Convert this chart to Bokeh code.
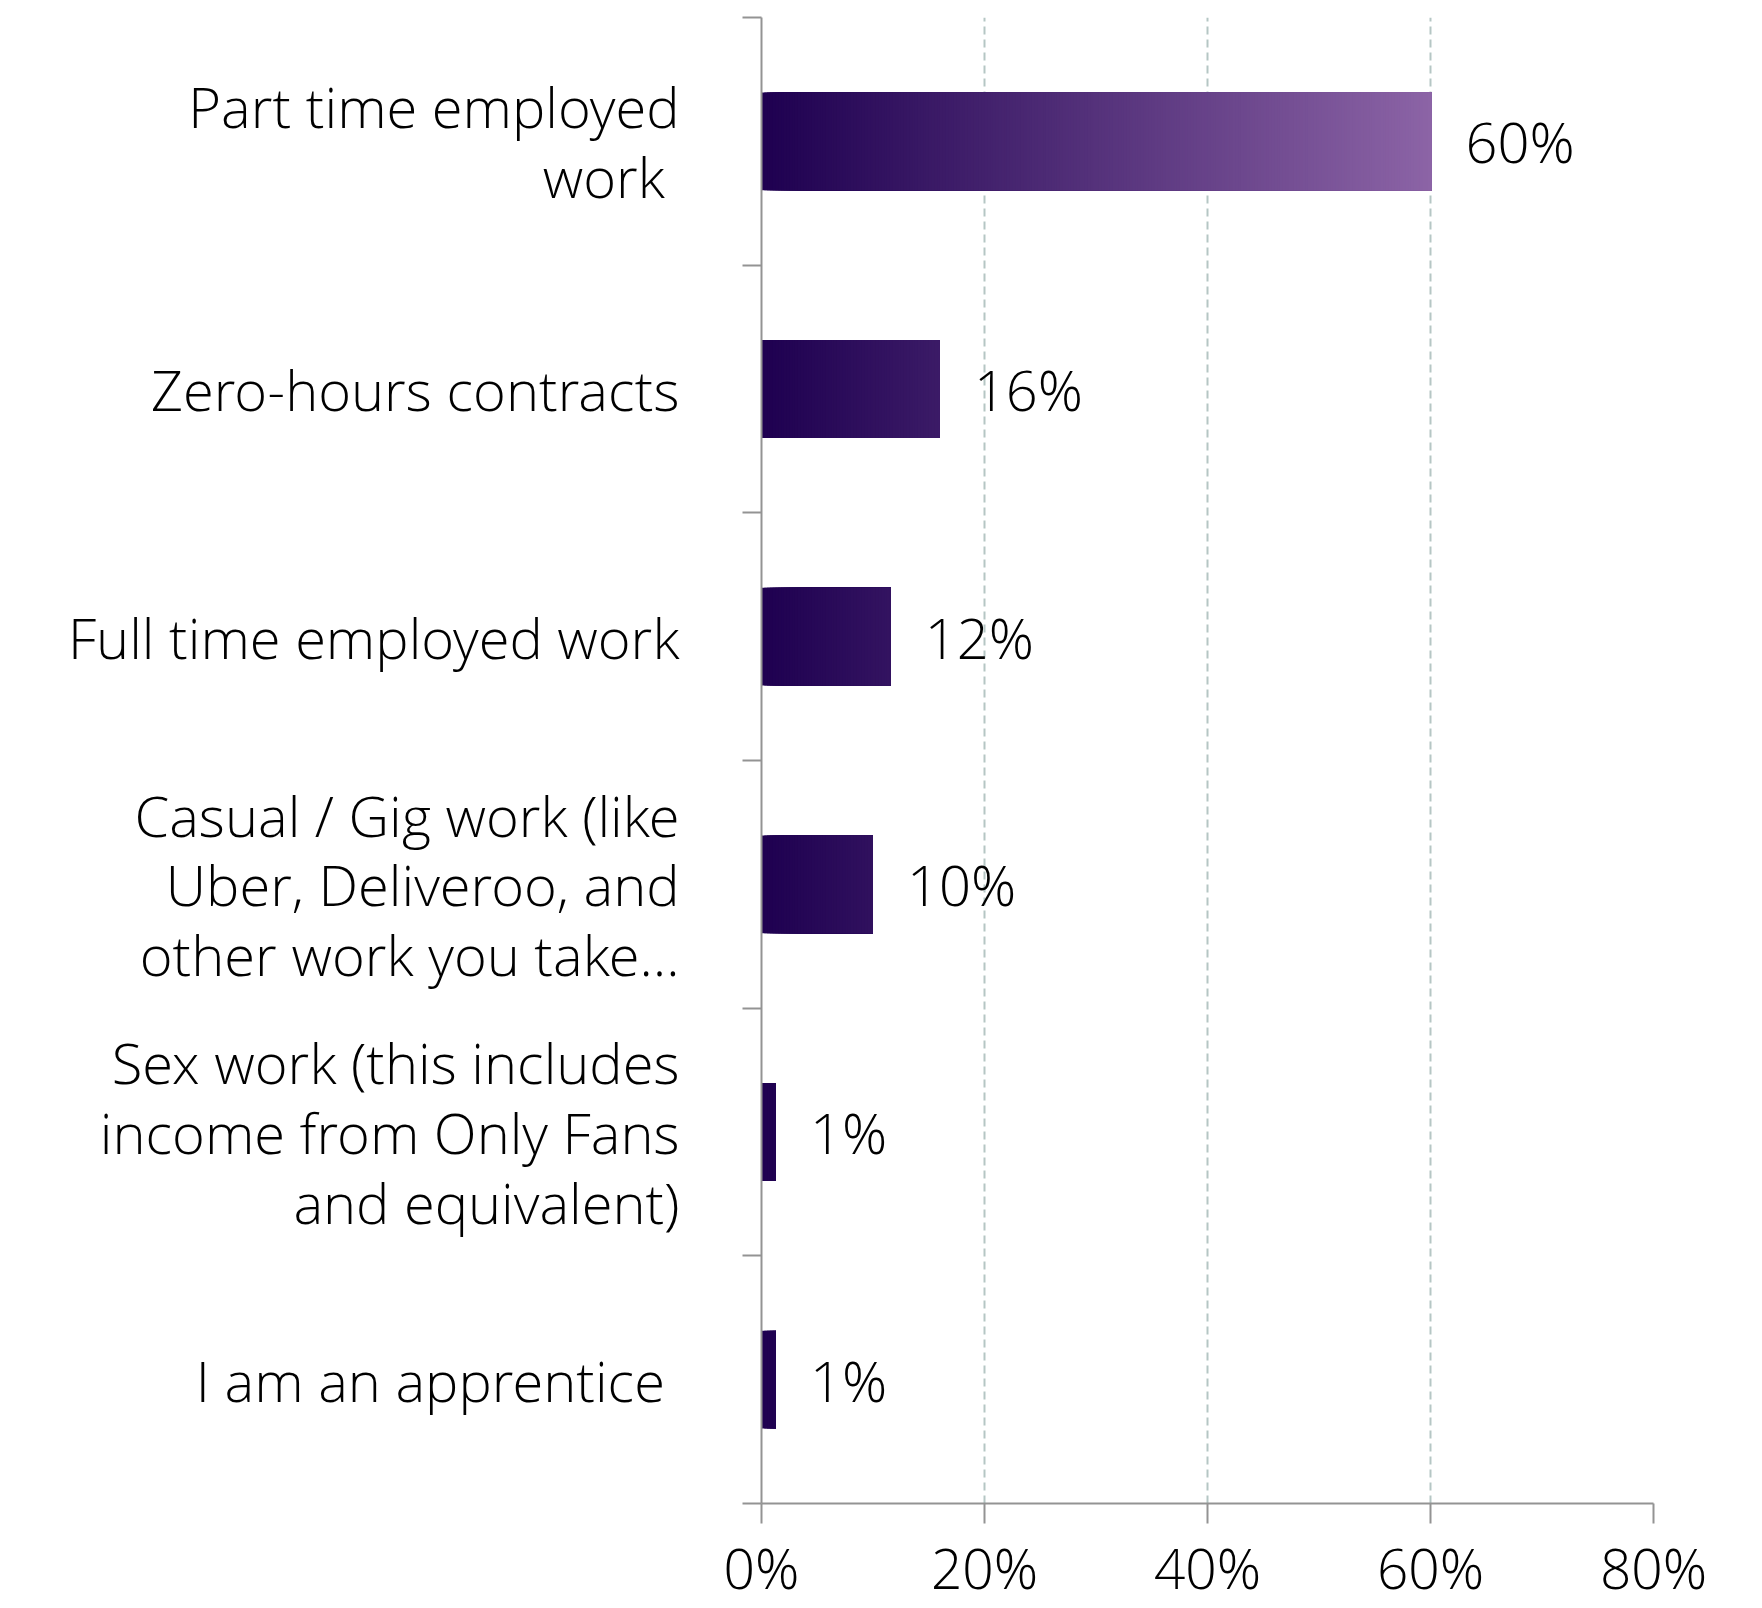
import numpy as np
from bokeh.plotting import figure
from bokeh.models import Range1d, FixedTicker, PrintfTickFormatter, ColumnDataSource
from bokeh.embed import file_html
from bokeh.resources import INLINE
from bokeh.core.properties import value

# ---- data ----
categories = [
    "Part time employed\nwork ",
    "Zero-hours contracts",
    "Full time employed work",
    "Casual / Gig work (like\nUber, Deliveroo, and\nother work you take…",
    "Sex work (this includes\nincome from Only Fans\nand equivalent)",
    "I am an apprentice ",
]
values = [60.1, 16.0, 11.6, 10.0, 1.3, 1.3]
x_ticks = [0, 20, 40, 60, 80]

FONT = "Open Sans Light, Noto Sans Light, Roboto Light, DejaVu Sans"
FS = "56px"
n = len(categories)
centers = [n - i - 0.5 for i in range(n)]
boundaries = list(range(n + 1))

# gradient colours (dark at 0, light at the largest value)
c0 = np.array([30, 0, 80])
c1 = np.array([140, 100, 166])
gmax = max(values)

def grad(x):
    t = min(max(x / gmax, 0.0), 1.0)
    r, g, b = (c0 + (c1 - c0) * t).round().astype(int)
    return "#%02x%02x%02x" % (r, g, b)

step = 0.25
lefts, rights, ys, cols = [], [], [], []
for v, yc in zip(values, centers):
    k = 0
    while k * step < v:
        l = k * step
        lefts.append(l)
        rights.append(v)
        ys.append(yc)
        cols.append(grad(l + step / 2))
        k += 1

p = figure(
    frame_width=892, frame_height=1486,
    x_range=Range1d(0, 80), y_range=Range1d(0, n),
    output_backend="svg", toolbar_location=None,
)
p.min_border_left = 761
p.min_border_right = 100
p.min_border_top = 17
p.min_border_bottom = 95
p.outline_line_color = None
p.background_fill_color = "white"
p.border_fill_color = "white"

# grid
p.ygrid.visible = False
p.xgrid.ticker = FixedTicker(ticks=x_ticks)
p.xgrid.grid_line_color = "#b5c6c4"
p.xgrid.grid_line_width = 2
p.xgrid.grid_line_dash = "8 5"

# bars (gradient built from slices)
src = ColumnDataSource(dict(left=lefts, right=rights, y=ys, color=cols))
p.hbar(y="y", left="left", right="right", height=0.395, fill_color="color",
       line_color=None, source=src)

# value labels
lab = ColumnDataSource(dict(x=values, y=centers, t=["%d%%" % round(v) for v in values]))
p.text(x="x", y="y", text="t", source=lab, x_offset=34, text_align="left",
       text_baseline="middle", text_font=value(FONT), text_font_size=FS,
       text_color="black")

# x axis
xa = p.xaxis[0]
xa.ticker = FixedTicker(ticks=x_ticks)
xa.formatter = PrintfTickFormatter(format="%d%%")
xa.axis_line_color = "#939393"
xa.axis_line_width = 2
xa.major_tick_line_color = "#939393"
xa.major_tick_line_width = 2
xa.major_tick_out = 20
xa.major_tick_in = 0
xa.minor_tick_line_color = None
xa.major_label_standoff = 6
xa.major_label_text_font = FONT
xa.major_label_text_font_size = "55px"
xa.major_label_text_color = "black"

# y axis: labels at centres, ticks at category boundaries
ya = p.yaxis[0]
ya.ticker = FixedTicker(ticks=centers, minor_ticks=boundaries)
ya.major_label_overrides = {c: lbl for c, lbl in zip(centers, categories)}
ya.axis_line_color = "#939393"
ya.axis_line_width = 2
ya.major_tick_line_color = None
ya.major_tick_out = 0
ya.major_tick_in = 0
ya.minor_tick_line_color = "#939393"
ya.minor_tick_line_width = 2
ya.minor_tick_out = 19
ya.minor_tick_in = 0
ya.major_label_standoff = 63
ya.major_label_text_font = FONT
ya.major_label_text_font_size = FS
ya.major_label_text_color = "black"
ya.major_label_text_line_height = 0.918
ya.major_label_text_align = "right"

open("out.html", "w").write(file_html(p, INLINE))
